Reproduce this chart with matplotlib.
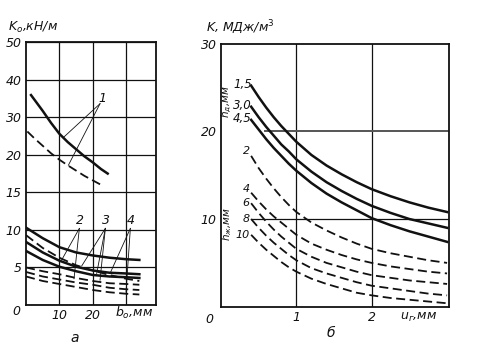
import numpy as np
import matplotlib
matplotlib.use('Agg')
import matplotlib.pyplot as plt

# ---- panel a: K0 vs b0 ----
y_ticks_a = [0, 5, 10, 15, 20, 30, 40, 50]          # broken y scale, evenly spaced
x_up = [1.5, 3, 5, 7.5, 10, 12.5, 15, 17.5, 20, 22.5, 24.5]
k1_solid = [35.9, 34.1, 31.7, 28.5, 25.6, 23.4, 21.5, 19.8, 19.0, 18.1, 17.5]
x_up_d = [0.4, 2.5, 5, 7.5, 10, 12.5, 15, 17.5, 20, 22.5]
k1_dash = [26.2, 24.4, 22.4, 20.4, 19.35, 18.6, 17.9, 17.2, 16.6, 16.0]

x_low = [0, 5, 10, 15, 20, 25, 30, 34]
low_solid = [
    [10.3, 8.9, 7.7, 7.0, 6.6, 6.3, 6.1, 6.0],
    [8.4, 7.0, 5.9, 5.1, 4.6, 4.3, 4.2, 4.1],
    [7.2, 6.0, 5.1, 4.5, 4.0, 3.8, 3.7, 3.6],
]
low_dash = [
    [9.3, 7.6, 6.3, 5.3, 4.6, 4.0, 3.5, 3.2],
    [5.0, 4.5, 4.1, 3.6, 3.2, 2.9, 2.8, 2.7],
    [4.4, 3.8, 3.4, 3.0, 2.7, 2.3, 2.1, 2.0],
    [3.8, 3.2, 2.8, 2.4, 2.0, 1.7, 1.5, 1.4],
]

# ---- panel b: K vs u_z ----
u = [0.4, 0.5, 0.6, 0.7, 0.8, 0.9, 1.0, 1.2, 1.4, 1.6, 1.8, 2.0, 2.25, 2.5, 2.75, 3.0]
hd_labels = ['1,5', '3,0', '4,5']
k_hd = [
    [25.2, 23.9, 22.7, 21.6, 20.6, 19.7, 18.8, 17.3, 16.1, 15.1, 14.2, 13.4, 12.6, 11.9, 11.3, 10.8],
    [22.8, 21.6, 20.5, 19.5, 18.5, 17.7, 16.8, 15.4, 14.2, 13.2, 12.3, 11.5, 10.7, 10.0, 9.5, 9.0],
    [21.3, 20.2, 19.1, 18.1, 17.2, 16.3, 15.5, 14.1, 12.9, 11.9, 11.0, 10.1, 9.3, 8.6, 8.0, 7.4],
]
hz_labels = ['2', '4', '6', '8', '10']
k_hz = [
    [17.2, 15.8, 14.6, 13.5, 12.5, 11.6, 10.8, 9.6, 8.7, 7.9, 7.2, 6.6, 6.1, 5.7, 5.3, 5.0],
    [13.0, 12.0, 11.1, 10.3, 9.6, 8.9, 8.2, 7.2, 6.5, 5.9, 5.4, 5.0, 4.6, 4.3, 4.0, 3.8],
    [11.8, 10.7, 9.7, 8.8, 8.0, 7.3, 6.6, 5.7, 5.0, 4.5, 4.0, 3.6, 3.3, 3.0, 2.8, 2.6],
    [10.0, 9.0, 8.1, 7.3, 6.6, 5.9, 5.3, 4.4, 3.8, 3.3, 2.8, 2.4, 2.1, 1.8, 1.5, 1.3],
    [8.2, 7.3, 6.5, 5.8, 5.1, 4.5, 4.0, 3.2, 2.6, 2.1, 1.6, 1.3, 1.0, 0.8, 0.6, 0.4],
]
hz_label_y = [17.8, 13.4, 11.8, 10.0, 8.2]   # label positions (slightly spread)

ink = '#111111'
fnt = dict(family='DejaVu Sans', style='italic', color=ink)
dash = (0, (5, 2.5))

fig = plt.figure(figsize=(4.9, 3.51), dpi=100)

# ---------- left panel ----------
ax1 = fig.add_axes([0.0531, 0.131, 0.2653, 0.749])
pos = np.arange(len(y_ticks_a), dtype=float)
fwd = lambda v: np.interp(v, y_ticks_a, pos)
inv = lambda p: np.interp(p, pos, y_ticks_a)
ax1.set_yscale('function', functions=(fwd, inv))
ax1.set_xlim(0, 39)
ax1.set_ylim(0, 50)
ax1.set_yticks(y_ticks_a)
ax1.set_yticklabels(['', '5', '10', '15', '20', '30', '40', '50'], fontsize=9, **fnt)
ax1.set_xticks([10, 20, 30])
ax1.set_xticklabels(['10', '20', ''], fontsize=9, **fnt)
ax1.tick_params(length=0, pad=3)
ax1.grid(True, color=ink, lw=0.9)
for s in ax1.spines.values():
    s.set_linewidth(1.3)
    s.set_color(ink)

ax1.plot(x_up, k1_solid, color=ink, lw=1.8)
ax1.plot(x_up_d, k1_dash, color=ink, lw=1.3, ls=dash)
for ys in low_solid:
    ax1.plot(x_low, ys, color=ink, lw=1.8)
for ys in low_dash:
    ax1.plot(x_low, ys, color=ink, lw=1.3, ls=dash)

# curve labels with leader lines
lead = dict(color=ink, lw=0.6)
ax1.text(22.8, 35.0, '1', fontsize=9, ha='center', va='center', **fnt)
ax1.plot([22.2, 11.2], [33.6, 24.6], **lead)
ax1.plot([22.2, 12.7], [33.6, 18.6], **lead)
ax1.text(16.2, 11.2, '2', fontsize=9, ha='center', va='center', **fnt)
ax1.plot([16.0, 10.7], [10.2, 6.0], **lead)
ax1.plot([16.0, 14.4], [10.2, 3.5], **lead)
ax1.text(24.0, 11.2, '3', fontsize=9, ha='center', va='center', **fnt)
ax1.plot([23.8, 16.7], [10.2, 5.2], **lead)
ax1.plot([23.8, 21.2], [10.2, 4.2], **lead)
ax1.plot([23.8, 22.2], [10.2, 3.3], **lead)
ax1.text(31.5, 11.2, '4', fontsize=9, ha='center', va='center', **fnt)
ax1.plot([31.3, 25.2], [10.2, 4.2], **lead)
ax1.plot([31.3, 30.0], [10.2, 1.7], **lead)

ax1.text(-1.8, -1.2, '0', fontsize=9, ha='right', va='top', **fnt)
ax1.text(32.5, -0.6, '$b_o$,мм', fontsize=9, ha='center', va='top', **fnt)
fig.text(8 / 490, 1 - 27 / 351, 'K$_o$,кН/м', fontsize=9, ha='left', va='center', **fnt)
fig.text(75 / 490, 1 - 338 / 351, 'а', fontsize=10, ha='center', va='center', **fnt)

# ---------- right panel ----------
ax2 = fig.add_axes([0.451, 0.126, 0.466, 0.750])
ax2.set_xlim(0, 3.03)
ax2.set_ylim(0, 30)
ax2.set_xticks([1, 2])
ax2.set_xticklabels(['1', '2'], fontsize=9, **fnt)
ax2.set_yticks([10, 20, 30])
ax2.set_yticklabels(['10', '20', '30'], fontsize=9, **fnt)
ax2.tick_params(length=0, pad=3)
for s in ax2.spines.values():
    s.set_linewidth(1.3)
    s.set_color(ink)
for xv in [1, 2]:
    ax2.axvline(xv, color=ink, lw=0.9)
ax2.plot([0.59, 3.03], [20, 20], color='#555555', lw=1.4)
ax2.plot([0.40, 3.03], [10, 10], color=ink, lw=0.9)

for ys in k_hd:
    ax2.plot(u, ys, color=ink, lw=1.8)
for ys in k_hz:
    ax2.plot(u, ys, color=ink, lw=1.3, ls=dash)

for lab, ys in zip(hd_labels, k_hd):
    ax2.text(0.41, ys[0] + 0.1, lab, fontsize=8.5, ha='right', va='center', **fnt)
for lab, yl in zip(hz_labels, hz_label_y):
    ax2.text(0.38, yl, lab, fontsize=8, ha='right', va='center', **fnt)
ax2.text(0.08, 23.4, 'h$_д$,мм', fontsize=7.5, rotation=90, ha='center', va='center', **fnt)
ax2.text(0.08, 9.4, 'h$_ж$,мм', fontsize=7.5, rotation=90, ha='center', va='center', **fnt)

ax2.text(-0.1, -0.7, '0', fontsize=9, ha='right', va='top', **fnt)
ax2.text(2.62, -0.5, 'u$_г$,мм', fontsize=9, ha='center', va='top', **fnt)
fig.text(206 / 490, 1 - 27 / 351, 'K, МДж/м$^3$', fontsize=9, ha='left', va='center', **fnt)
fig.text(331 / 490, 1 - 333 / 351, 'б', fontsize=10, ha='center', va='center', **fnt)

fig.savefig('out.png', dpi=100)
